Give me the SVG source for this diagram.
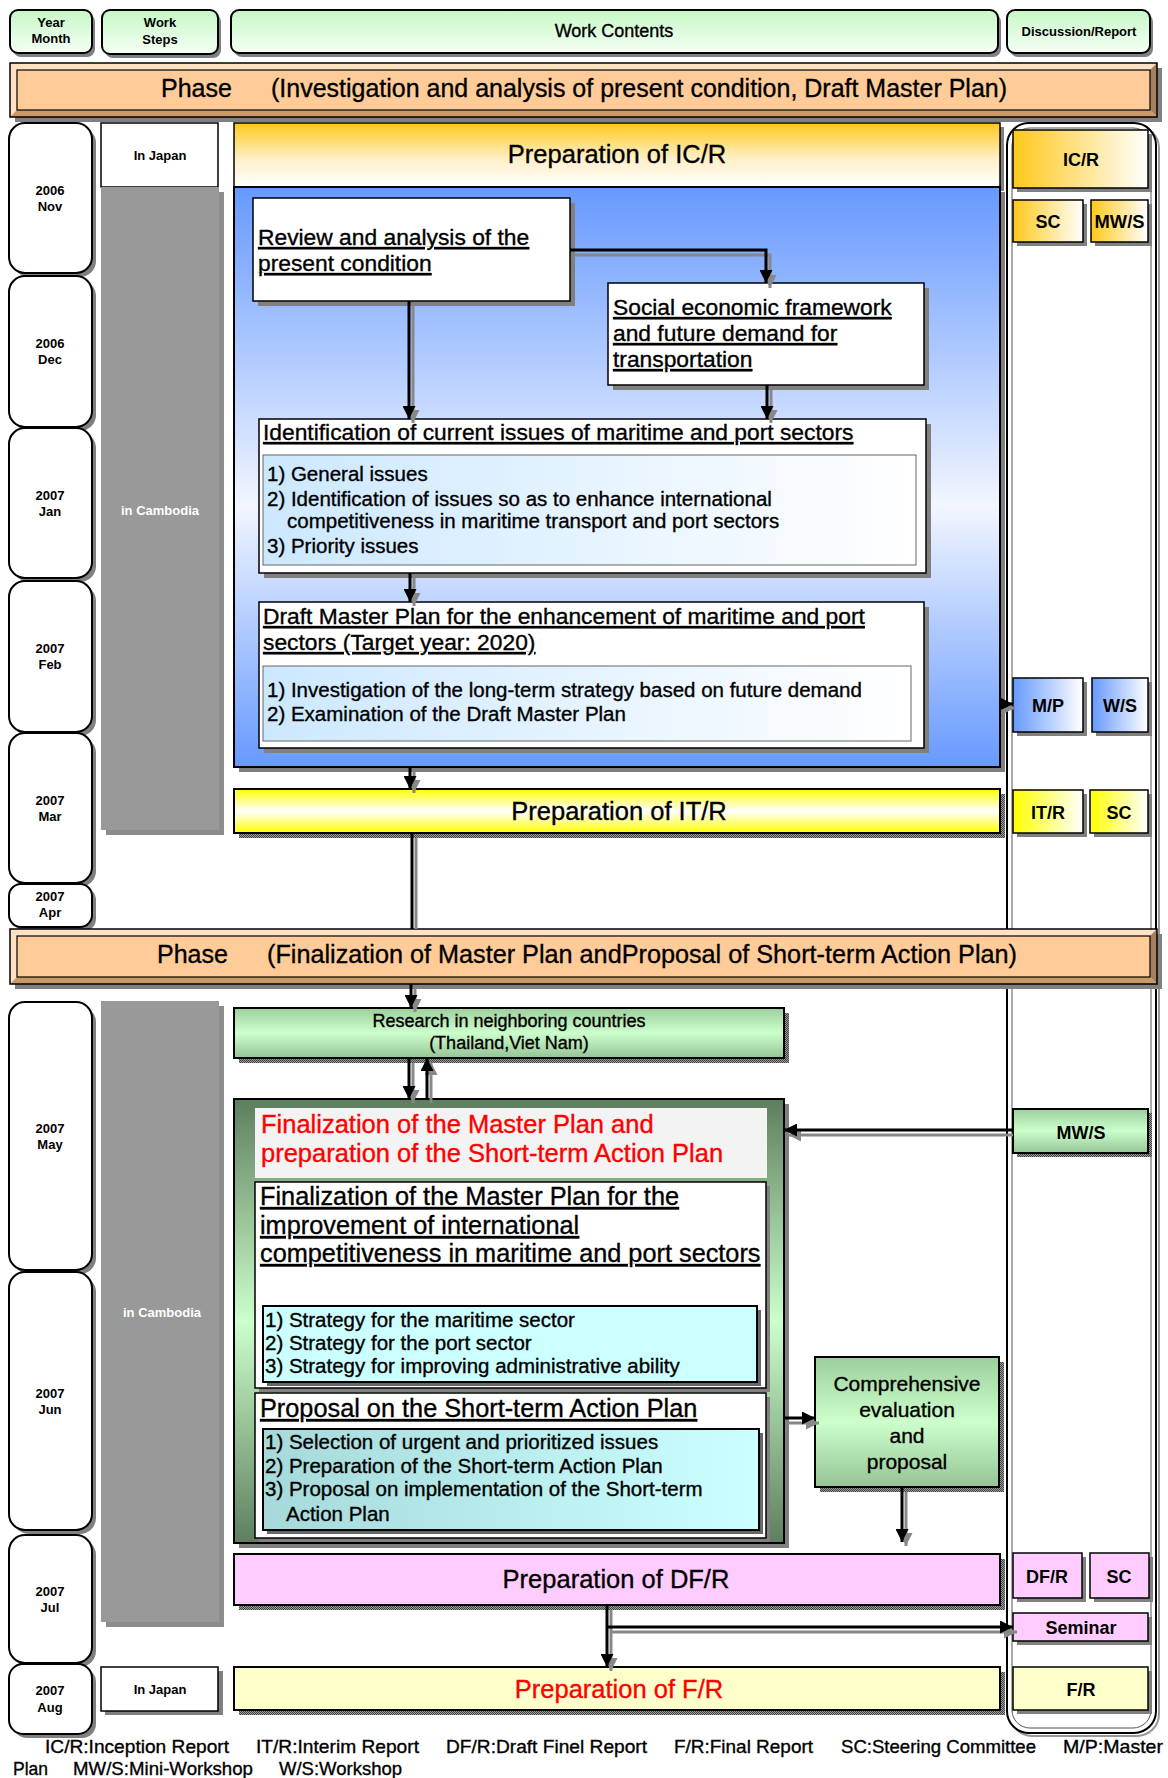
<svg xmlns="http://www.w3.org/2000/svg" width="1168" height="1778" viewBox="0 0 1168 1778">
<defs>
<linearGradient id="gHdr" x1="0" y1="0" x2="0" y2="1"><stop offset="0" stop-color="#C6F8C6"/><stop offset="1" stop-color="#F6FFF6"/></linearGradient>
<linearGradient id="gICR" x1="0" y1="0" x2="0" y2="1"><stop offset="0" stop-color="#FFC81A"/><stop offset="0.55" stop-color="#FFEFC6"/><stop offset="1" stop-color="#FFFFFF"/></linearGradient>
<linearGradient id="gOrH" x1="0" y1="0" x2="1" y2="0"><stop offset="0" stop-color="#FFC81A"/><stop offset="1" stop-color="#FFFFFF"/></linearGradient>
<linearGradient id="gBlue" x1="0" y1="0" x2="0" y2="1"><stop offset="0" stop-color="#6699FF"/><stop offset="0.55" stop-color="#F2F6FF"/><stop offset="1" stop-color="#6699FF"/></linearGradient>
<linearGradient id="gBlueH" x1="0" y1="0" x2="1" y2="0"><stop offset="0" stop-color="#6699FF"/><stop offset="1" stop-color="#FFFFFF"/></linearGradient>
<linearGradient id="gYelV" x1="0" y1="0" x2="0" y2="1"><stop offset="0" stop-color="#FFFF00"/><stop offset="0.5" stop-color="#FFFFFF"/><stop offset="1" stop-color="#FFFF00"/></linearGradient>
<linearGradient id="gYelH" x1="0" y1="0" x2="1" y2="0"><stop offset="0" stop-color="#FFFF00"/><stop offset="1" stop-color="#FFFFFF"/></linearGradient>
<linearGradient id="gLB" x1="0" y1="0" x2="1" y2="0"><stop offset="0" stop-color="#CCE8FF"/><stop offset="1" stop-color="#FFFFFF"/></linearGradient>
<linearGradient id="gGrV" x1="0" y1="0" x2="0" y2="1"><stop offset="0" stop-color="#9CCF9C"/><stop offset="0.5" stop-color="#CCFFCC"/><stop offset="1" stop-color="#96C396"/></linearGradient>
<linearGradient id="gDkG" x1="0" y1="0" x2="0" y2="1"><stop offset="0" stop-color="#5E7E5E"/><stop offset="0.5" stop-color="#CCFFCC"/><stop offset="1" stop-color="#5E7E5E"/></linearGradient>
<linearGradient id="gTeal" x1="0" y1="0" x2="1" y2="0"><stop offset="0" stop-color="#A6D9D9"/><stop offset="1" stop-color="#CCFFFF"/></linearGradient>
<pattern id="hatch" width="2" height="2" patternUnits="userSpaceOnUse"><rect width="2" height="2" fill="#9a9a9a"/><rect width="1" height="1" fill="#444"/><rect x="1" y="1" width="1" height="1" fill="#444"/></pattern>
<marker id="ah" viewBox="0 0 12 12" refX="12" refY="6" markerWidth="13" markerHeight="13" markerUnits="userSpaceOnUse" orient="auto"><path d="M0,0 L12,6 L0,12 z" fill="#000"/></marker>
<marker id="ahs" viewBox="0 0 12 12" refX="12" refY="6" markerWidth="13" markerHeight="13" markerUnits="userSpaceOnUse" orient="auto"><path d="M0,0 L12,6 L0,12 z" fill="#888"/></marker>
</defs>
<style>
text{font-family:"Liberation Sans",Arial,sans-serif;fill:#000;stroke:#000;stroke-width:0.35}
.lab{font-size:13px;font-weight:bold;text-anchor:middle;stroke:none}
.rep{font-size:18px;font-weight:bold;text-anchor:middle;stroke:none}
.wt{fill:#fff;stroke:none}
.big{font-size:25.5px;text-anchor:middle}
.ul{font-size:22.8px;text-decoration:underline}
.ul2{font-size:25.3px;text-decoration:underline}
.li{font-size:20.5px}
.bx{stroke:#000;stroke-width:2}
.bx1{stroke:#000;stroke-width:1.5}
.sh{fill:#808080}
.hs{fill:url(#hatch)}
.red{fill:#FF0000;stroke:#FF0000}
.cn{fill:none;stroke:#000;stroke-width:3}
.cs{fill:none;stroke:#888;stroke-width:3}
</style>

<!-- Header -->
<g id="hdr-year"><rect x="13" y="14" width="82" height="43" rx="8" class="sh"/><rect x="10" y="10" width="82" height="43" rx="8" fill="url(#gHdr)" class="bx"/><text class="lab" x="51" y="27">Year</text><text class="lab" x="51" y="43">Month</text></g>
<g id="hdr-steps"><rect x="105" y="14" width="116" height="44" rx="8" class="sh"/><rect x="102" y="10" width="116" height="44" rx="8" fill="url(#gHdr)" class="bx"/><text class="lab" x="160" y="27">Work</text><text class="lab" x="160" y="44">Steps</text></g>
<g id="hdr-contents"><rect x="234" y="14" width="767" height="43" rx="8" class="sh"/><rect x="231" y="10" width="767" height="43" rx="8" fill="url(#gHdr)" class="bx"/><text x="614" y="37" font-size="18" text-anchor="middle">Work Contents</text></g>
<g id="hdr-disc"><rect x="1010" y="14" width="143" height="43" rx="8" class="sh"/><rect x="1007" y="10" width="143" height="43" rx="8" fill="url(#gHdr)" class="bx"/><text class="lab" x="1079" y="36">Discussion/Report</text></g>

<!-- Discussion column -->
<g id="disc-col">
<rect x="1010" y="126" width="149" height="1610" rx="22" fill="none" stroke="#999" stroke-width="2"/>
<rect x="1007" y="123" width="149" height="1610" rx="22" fill="#fff" stroke="#000" stroke-width="2"/>
<rect x="1012" y="128" width="139" height="1600" rx="18" fill="none" stroke="#555" stroke-width="1"/>
</g>

<!-- Phase 1 -->
<g id="phase1">
<rect x="15" y="68" width="1147" height="54" class="sh"/>
<rect x="10" y="63" width="1147" height="54" fill="#FFCC99"/>
<polygon points="10,63 1157,63 1150,70 17,70" fill="#FFE2C4"/>
<polygon points="10,63 17,70 17,110 10,117" fill="#FFE2C4"/>
<polygon points="1157,63 1157,117 1150,110 1150,70" fill="#A57F5F"/>
<polygon points="10,117 1157,117 1150,110 17,110" fill="#CC9966"/>
<rect x="17" y="70" width="1133" height="40" fill="#FFCC99" stroke="#000" stroke-width="1.2"/>
<rect x="10" y="63" width="1147" height="54" fill="none" stroke="#000" stroke-width="1.5"/>
<text x="161" y="97" font-size="25">Phase</text>
<text x="271" y="97" font-size="25" textLength="736" lengthAdjust="spacingAndGlyphs">(Investigation and analysis of present condition, Draft Master Plan)</text>
</g>

<!-- Date boxes -->
<g id="d-2006nov"><rect x="13" y="127" width="83" height="150" rx="16" class="sh"/><rect x="9" y="123" width="83" height="150" rx="16" fill="#fff" class="bx"/><text class="lab" x="50" y="195">2006</text><text class="lab" x="50" y="211">Nov</text></g>
<g id="d-2006dec"><rect x="13" y="280" width="83" height="151" rx="16" class="sh"/><rect x="9" y="276" width="83" height="151" rx="16" fill="#fff" class="bx"/><text class="lab" x="50" y="348">2006</text><text class="lab" x="50" y="364">Dec</text></g>
<g id="d-2007jan"><rect x="13" y="432" width="83" height="150" rx="16" class="sh"/><rect x="9" y="428" width="83" height="150" rx="16" fill="#fff" class="bx"/><text class="lab" x="50" y="500">2007</text><text class="lab" x="50" y="516">Jan</text></g>
<g id="d-2007feb"><rect x="13" y="585" width="83" height="151" rx="16" class="sh"/><rect x="9" y="581" width="83" height="151" rx="16" fill="#fff" class="bx"/><text class="lab" x="50" y="653">2007</text><text class="lab" x="50" y="669">Feb</text></g>
<g id="d-2007mar"><rect x="13" y="737" width="83" height="150" rx="16" class="sh"/><rect x="9" y="733" width="83" height="150" rx="16" fill="#fff" class="bx"/><text class="lab" x="50" y="805">2007</text><text class="lab" x="50" y="821">Mar</text></g>
<g id="d-2007apr"><rect x="13" y="888" width="83" height="43" rx="12" class="sh"/><rect x="9" y="884" width="83" height="43" rx="12" fill="#fff" class="bx"/><text class="lab" x="50" y="901">2007</text><text class="lab" x="50" y="917">Apr</text></g>
<g id="d-2007may"><rect x="13" y="1006" width="83" height="268" rx="16" class="sh"/><rect x="9" y="1002" width="83" height="268" rx="16" fill="#fff" class="bx"/><text class="lab" x="50" y="1133">2007</text><text class="lab" x="50" y="1149">May</text></g>
<g id="d-2007jun"><rect x="13" y="1276" width="83" height="258" rx="16" class="sh"/><rect x="9" y="1272" width="83" height="258" rx="16" fill="#fff" class="bx"/><text class="lab" x="50" y="1398">2007</text><text class="lab" x="50" y="1414">Jun</text></g>
<g id="d-2007jul"><rect x="13" y="1539" width="83" height="128" rx="16" class="sh"/><rect x="9" y="1535" width="83" height="128" rx="16" fill="#fff" class="bx"/><text class="lab" x="50" y="1596">2007</text><text class="lab" x="50" y="1612">Jul</text></g>
<g id="d-2007aug"><rect x="13" y="1668" width="83" height="70" rx="14" class="sh"/><rect x="9" y="1664" width="83" height="70" rx="14" fill="#fff" class="bx"/><text class="lab" x="50" y="1695">2007</text><text class="lab" x="50" y="1712">Aug</text></g>

<!-- Work steps -->
<g id="ws-japan1"><rect x="101" y="123" width="117" height="64" fill="#fff" class="bx1"/><text class="lab" x="160" y="160">In Japan</text></g>
<g id="ws-cambodia1"><rect x="106" y="192" width="118" height="643" fill="#8c8c8c"/><rect x="101" y="187" width="118" height="643" fill="#999"/><text class="lab wt" x="160" y="515">in Cambodia</text></g>
<g id="ws-cambodia2"><rect x="106" y="1006" width="118" height="621" fill="#8c8c8c"/><rect x="101" y="1001" width="118" height="621" fill="#999"/><text class="lab wt" x="162" y="1317">in Cambodia</text></g>
<g id="ws-japan2"><rect x="105" y="1671" width="118" height="44" class="sh"/><rect x="101" y="1667" width="117" height="44" fill="#fff" class="bx1"/><text class="lab" x="160" y="1694">In Japan</text></g>

<!-- Work contents, phase 1 -->
<g id="prep-icr"><rect x="238" y="127" width="766" height="64" class="sh"/><rect x="234" y="123" width="766" height="64" fill="url(#gICR)" class="bx1"/><text class="big" x="617" y="163">Preparation of IC/R</text></g>
<g id="blue-area"><rect x="239" y="192" width="766" height="580" class="sh"/><rect x="234" y="187" width="766" height="580" fill="url(#gBlue)" class="bx"/></g>
<g id="n-review"><rect x="258" y="203" width="317" height="103" class="sh"/><rect x="253" y="198" width="317" height="103" fill="#fff" class="bx1"/>
<text class="ul" x="258" y="245">Review and analysis of the</text><text class="ul" x="258" y="271">present condition</text></g>
<g id="n-social"><rect x="613" y="288" width="316" height="102" class="sh"/><rect x="608" y="283" width="316" height="102" fill="#fff" class="bx1"/>
<text class="ul" x="613" y="315">Social economic framework</text><text class="ul" x="613" y="341">and future demand for</text><text class="ul" x="613" y="367">transportation</text></g>
<g id="n-ident"><rect x="264" y="424" width="667" height="154" class="sh"/><rect x="259" y="419" width="667" height="154" fill="#fff" class="bx1"/>
<text class="ul" x="263" y="440">Identification of current issues of maritime and port sectors</text>
<rect x="263" y="455" width="653" height="110" fill="url(#gLB)" stroke="#666" stroke-width="1"/>
<text class="li" x="267" y="481">1) General issues</text>
<text class="li" x="267" y="506">2) Identification of issues so as to enhance international</text>
<text class="li" x="287" y="528">competitiveness in maritime transport and port sectors</text>
<text class="li" x="267" y="553">3) Priority issues</text></g>
<g id="n-draft"><rect x="264" y="607" width="665" height="146" class="sh"/><rect x="259" y="602" width="665" height="146" fill="#fff" class="bx1"/>
<text class="ul" x="263" y="624">Draft Master Plan for the enhancement of maritime and port</text>
<text class="ul" x="263" y="650">sectors (Target year: 2020)</text>
<rect x="263" y="666" width="648" height="75" fill="url(#gLB)" stroke="#666" stroke-width="1"/>
<text class="li" x="267" y="697">1) Investigation of the long-term strategy based on future demand</text>
<text class="li" x="267" y="721">2) Examination of the Draft Master Plan</text></g>
<g id="prep-itr"><rect x="239" y="794" width="766" height="44" class="hs"/><rect x="234" y="789" width="766" height="44" fill="url(#gYelV)" class="bx"/><text class="big" x="619" y="820">Preparation of IT/R</text></g>

<!-- Report boxes phase 1 -->
<g id="r-icr"><rect x="1017" y="134" width="135" height="58" class="sh"/><rect x="1013" y="130" width="135" height="58" fill="url(#gOrH)" class="bx1"/><text class="rep" x="1081" y="166" font-size="19">IC/R</text></g>
<g id="r-sc1"><rect x="1017" y="204" width="70" height="42" class="sh"/><rect x="1013" y="200" width="70" height="42" fill="url(#gOrH)" class="bx1"/><text class="rep" x="1048" y="228">SC</text></g>
<g id="r-mws1"><rect x="1095" y="204" width="57" height="42" class="sh"/><rect x="1091" y="200" width="57" height="42" fill="url(#gOrH)" class="bx1"/><text class="rep" x="1119.5" y="228" textLength="50" lengthAdjust="spacingAndGlyphs">MW/S</text></g>
<g id="r-mp"><rect x="1017" y="682" width="70" height="54" class="sh"/><rect x="1013" y="678" width="70" height="54" fill="url(#gBlueH)" class="bx1"/><text class="rep" x="1048" y="712">M/P</text></g>
<g id="r-ws"><rect x="1096" y="682" width="56" height="54" class="sh"/><rect x="1092" y="678" width="56" height="54" fill="url(#gBlueH)" class="bx1"/><text class="rep" x="1120" y="712">W/S</text></g>
<g id="r-itr"><rect x="1017" y="794" width="70" height="43" class="sh"/><rect x="1013" y="790" width="70" height="43" fill="url(#gYelH)" class="bx1"/><text class="rep" x="1048" y="819">IT/R</text></g>
<g id="r-sc2"><rect x="1094" y="794" width="58" height="43" class="sh"/><rect x="1090" y="790" width="58" height="43" fill="url(#gYelH)" class="bx1"/><text class="rep" x="1119" y="819">SC</text></g>

<!-- Phase 2 -->
<g id="phase2">
<rect x="15" y="934" width="1147" height="55" class="sh"/>
<rect x="10" y="929" width="1147" height="55" fill="#FFCC99"/>
<polygon points="10,929 1157,929 1150,936 17,936" fill="#FFE2C4"/>
<polygon points="10,929 17,936 17,977 10,984" fill="#FFE2C4"/>
<polygon points="1157,929 1157,984 1150,977 1150,936" fill="#A57F5F"/>
<polygon points="10,984 1157,984 1150,977 17,977" fill="#CC9966"/>
<rect x="17" y="936" width="1133" height="41" fill="#FFCC99" stroke="#000" stroke-width="1.2"/>
<rect x="10" y="929" width="1147" height="55" fill="none" stroke="#000" stroke-width="1.5"/>
<text x="157" y="963" font-size="25">Phase</text>
<text x="267" y="963" font-size="25" textLength="750" lengthAdjust="spacingAndGlyphs">(Finalization of Master Plan andProposal of Short-term Action Plan)</text>
</g>

<!-- Work contents, phase 2 -->
<g id="n-research"><rect x="239" y="1013" width="550" height="50" class="hs"/><rect x="234" y="1008" width="550" height="50" fill="url(#gGrV)" class="bx"/>
<text x="509" y="1027" font-size="18" text-anchor="middle">Research in neighboring countries</text>
<text x="509" y="1049" font-size="18" text-anchor="middle">(Thailand,Viet Nam)</text></g>
<g id="n-final"><rect x="239" y="1104" width="550" height="444" class="sh"/><rect x="234" y="1099" width="550" height="444" fill="url(#gDkG)" class="bx"/>
<rect x="255" y="1108" width="512" height="70" fill="#F3F3F3"/>
<text class="red" x="261" y="1133" font-size="25.5">Finalization of the Master Plan and</text>
<text class="red" x="261" y="1162" font-size="25.5">preparation of the Short-term Action Plan</text>
<rect x="259" y="1186" width="511" height="206" class="sh"/>
<rect x="255" y="1182" width="511" height="206" fill="#fff" class="bx1"/>
<text class="ul2" x="260" y="1205">Finalization of the Master Plan for the</text>
<text class="ul2" x="260" y="1234">improvement of international</text>
<text class="ul2" x="260" y="1262">competitiveness in maritime and port sectors</text>
<rect x="267" y="1310" width="494" height="76" fill="#666"/>
<rect x="263" y="1306" width="494" height="76" fill="#CCFFFF" class="bx"/>
<text class="li" x="265" y="1327">1) Strategy for the maritime sector</text>
<text class="li" x="265" y="1350">2) Strategy for the port sector</text>
<text class="li" x="265" y="1373">3) Strategy for improving administrative ability</text>
<rect x="259" y="1397" width="511" height="145" class="sh"/>
<rect x="255" y="1393" width="511" height="145" fill="#fff" class="bx1"/>
<text class="ul2" x="260" y="1417">Proposal on the Short-term Action Plan</text>
<rect x="267" y="1433" width="496" height="101" fill="#666"/>
<rect x="263" y="1429" width="496" height="101" fill="url(#gTeal)" class="bx"/>
<text class="li" x="265" y="1449">1) Selection of urgent and prioritized issues</text>
<text class="li" x="265" y="1473">2) Preparation of the Short-term Action Plan</text>
<text class="li" x="265" y="1496">3) Proposal on implementation of the Short-term</text>
<text class="li" x="286" y="1521">Action Plan</text></g>
<g id="n-compre"><rect x="820" y="1362" width="184" height="130" class="hs"/><rect x="815" y="1357" width="184" height="130" fill="url(#gGrV)" class="bx"/>
<text x="907" y="1391" font-size="21" text-anchor="middle">Comprehensive</text>
<text x="907" y="1417" font-size="21" text-anchor="middle">evaluation</text>
<text x="907" y="1443" font-size="21" text-anchor="middle">and</text>
<text x="907" y="1469" font-size="21" text-anchor="middle">proposal</text></g>
<g id="prep-dfr"><rect x="239" y="1559" width="766" height="51" class="hs"/><rect x="234" y="1554" width="766" height="51" fill="#FFCCFF" class="bx"/><text class="big" x="616" y="1588">Preparation of DF/R</text></g>
<g id="prep-fr"><rect x="239" y="1672" width="766" height="43" class="hs"/><rect x="234" y="1667" width="766" height="43" fill="#FFFFCC" class="bx"/><text class="big red" x="619" y="1698">Preparation of F/R</text></g>

<!-- Report boxes phase 2 -->
<g id="r-mws2"><rect x="1017" y="1113" width="135" height="44" class="hs"/><rect x="1013" y="1109" width="135" height="44" fill="url(#gGrV)" class="bx"/><text class="rep" x="1081" y="1139">MW/S</text></g>
<g id="r-dfr"><rect x="1017" y="1557" width="69" height="45" class="sh"/><rect x="1013" y="1553" width="69" height="45" fill="#FFCCFF" class="bx1"/><text class="rep" x="1047" y="1583">DF/R</text></g>
<g id="r-sc3"><rect x="1094" y="1557" width="59" height="45" class="sh"/><rect x="1090" y="1553" width="59" height="45" fill="#FFCCFF" class="bx1"/><text class="rep" x="1119" y="1583">SC</text></g>
<g id="r-seminar"><rect x="1017" y="1617" width="135" height="28" class="sh"/><rect x="1013" y="1613" width="135" height="28" fill="#FFCCFF" class="bx1"/><text class="rep" x="1081" y="1634" font-size="16.5">Seminar</text></g>
<g id="r-fr"><rect x="1017" y="1671" width="135" height="43" class="sh"/><rect x="1013" y="1667" width="135" height="43" fill="#FFFFCC" class="bx1"/><text class="rep" x="1081" y="1696">F/R</text></g>

<!-- Connectors -->
<g id="connectors">
<path class="cs" d="M574,255 H770 V288" marker-end="url(#ahs)"/>
<path class="cn" d="M570,250 H766 V283" marker-end="url(#ah)"/>
<path class="cs" d="M413,306 V423" marker-end="url(#ahs)"/>
<path class="cn" d="M409,301 V419" marker-end="url(#ah)"/>
<path class="cs" d="M771,390 V423" marker-end="url(#ahs)"/>
<path class="cn" d="M767,385 V419" marker-end="url(#ah)"/>
<path class="cs" d="M414,578 V606" marker-end="url(#ahs)"/>
<path class="cn" d="M410,573 V602" marker-end="url(#ah)"/>
<path class="cs" d="M414,772 V793" marker-end="url(#ahs)"/>
<path class="cn" d="M410,767 V789" marker-end="url(#ah)"/>
<path class="cs" d="M1002,708 H1015" marker-end="url(#ahs)"/>
<path class="cn" d="M1000,704 H1013" marker-end="url(#ah)"/>
<path class="cs" d="M416,838 V929"/>
<path class="cn" d="M412,833 V929"/>
<path class="cs" d="M415,989 V1012" marker-end="url(#ahs)"/>
<path class="cn" d="M411,984 V1008" marker-end="url(#ah)"/>
<path class="cs" d="M413,1063 V1103" marker-end="url(#ahs)"/>
<path class="cn" d="M409,1058 V1099" marker-end="url(#ah)"/>
<path class="cs" d="M431,1103 V1062" marker-end="url(#ahs)"/>
<path class="cn" d="M427,1099 V1058" marker-end="url(#ah)"/>
<path class="cs" d="M1013,1135 H788" marker-end="url(#ahs)"/>
<path class="cn" d="M1013,1130 H784" marker-end="url(#ah)"/>
<path class="cs" d="M788,1423 H819" marker-end="url(#ahs)"/>
<path class="cn" d="M784,1418 H815" marker-end="url(#ah)"/>
<path class="cs" d="M906,1492 V1546" marker-end="url(#ahs)"/>
<path class="cn" d="M902,1487 V1542" marker-end="url(#ah)"/>
<path class="cs" d="M611,1610 V1671" marker-end="url(#ahs)"/>
<path class="cn" d="M607,1605 V1667" marker-end="url(#ah)"/>
<path class="cs" d="M611,1632 H1017" marker-end="url(#ahs)"/>
<path class="cn" d="M607,1627 H1013" marker-end="url(#ah)"/>
</g>

<!-- Legend -->
<g id="legend">
<text font-size="19" y="1753"><tspan x="45" textLength="184" lengthAdjust="spacingAndGlyphs">IC/R:Inception Report</tspan></text>
<text font-size="19" y="1753"><tspan x="256" textLength="163" lengthAdjust="spacingAndGlyphs">IT/R:Interim Report</tspan></text>
<text font-size="19" y="1753"><tspan x="446" textLength="201" lengthAdjust="spacingAndGlyphs">DF/R:Draft Finel Report</tspan></text>
<text font-size="19" y="1753"><tspan x="674" textLength="139" lengthAdjust="spacingAndGlyphs">F/R:Final Report</tspan></text>
<text font-size="19" y="1753"><tspan x="841" textLength="195" lengthAdjust="spacingAndGlyphs">SC:Steering Committee</tspan></text>
<text font-size="19" y="1753"><tspan x="1063" textLength="100" lengthAdjust="spacingAndGlyphs">M/P:Master</tspan></text>
<text font-size="19" y="1775"><tspan x="13" textLength="35" lengthAdjust="spacingAndGlyphs">Plan</tspan></text>
<text font-size="19" y="1775"><tspan x="73" textLength="180" lengthAdjust="spacingAndGlyphs">MW/S:Mini-Workshop</tspan></text>
<text font-size="19" y="1775"><tspan x="279" textLength="123" lengthAdjust="spacingAndGlyphs">W/S:Workshop</tspan></text>
</g>
</svg>
